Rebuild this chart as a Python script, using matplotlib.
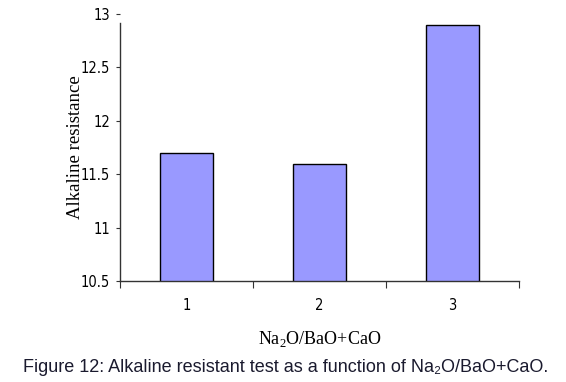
import matplotlib.pyplot as plt
from matplotlib.ticker import FixedLocator, FixedFormatter

# data
categories = ["1", "2", "3"]
resistance = [11.7, 11.6, 12.9]
y_ticks = [10.5, 11, 11.5, 12, 12.5, 13]
y_tick_labels = ["10.5", "11", "11.5", "12", "12.5", "13"]

narrow = ["Liberation Sans Narrow", "DejaVu Sans"]
serif = ["Liberation Serif", "DejaVu Serif"]

plt.rcParams["mathtext.fontset"] = "custom"
plt.rcParams["mathtext.rm"] = "Liberation Serif"

fig = plt.figure(figsize=(5.66, 3.82), dpi=100)
ax = fig.add_axes([0.212, 0.2644, 0.705, 0.699])

x = list(range(1, len(categories) + 1))
ax.bar(x, resistance, width=0.4, color="#9999ff", edgecolor="black", linewidth=1.0)

ax.set_xlim(0.5, 3.5)
ax.set_ylim(10.5, 13)

# spines like the old Excel chart
ax.spines["top"].set_visible(False)
ax.spines["right"].set_visible(False)
ax.spines["left"].set_bounds(10.5, 12.92)
for s in ("left", "bottom"):
    ax.spines[s].set_color("#333333")
    ax.spines[s].set_linewidth(1.0)

# x: ticks on the category borders, labels in the middle
ax.xaxis.set_major_locator(FixedLocator([0.5, 1.5, 2.5, 3.5]))
ax.xaxis.set_major_formatter(FixedFormatter(["", "", "", ""]))
ax.xaxis.set_minor_locator(FixedLocator(x))
ax.xaxis.set_minor_formatter(FixedFormatter(categories))
ax.tick_params(axis="x", which="major", length=5, direction="out", color="#333333")
ax.tick_params(axis="x", which="minor", length=0, pad=12)

ax.set_yticks(y_ticks)
ax.set_yticklabels(y_tick_labels)
ax.tick_params(axis="y", length=3, direction="out", color="#333333", pad=4)

for lab in ax.get_xticklabels(minor=True) + ax.get_yticklabels():
    lab.set_family(narrow)
    lab.set_fontstretch("condensed")
    lab.set_fontsize(10.5)

ax.set_ylabel("Alkaline resistance", family=serif, fontsize=13.5, labelpad=-2)
ax.set_xlabel("Na$_2$O/BaO+CaO", family=serif, fontsize=13, labelpad=12)

fig.text(0.04, 0.025, "Figure 12: Alkaline resistant test as a function of Na\u2082O/BaO+CaO.",
         family=["Liberation Sans", "DejaVu Sans"], fontsize=13, color="#1a1a2e")

fig.savefig("out.png", dpi=100)
